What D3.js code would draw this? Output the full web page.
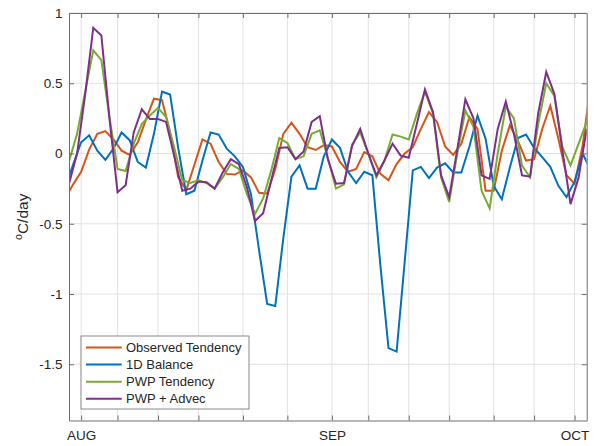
<!DOCTYPE html>
<html>
<head>
<meta charset="utf-8">
<script src="https://cdn.jsdelivr.net/npm/d3@7"></script>
<style>
  body { margin: 0; background: #fff; }
  text { font-family: "Liberation Sans", Arial, Helvetica, sans-serif; }
</style>
</head>
<body>
<div id="chart"></div>
<script>
// Days relative to Aug 1 (observed / 1D balance at whole days, PWP runs at half days)
const obsDays = d3.range(-2, 64);
const pwpDays = d3.range(-1.5, 63, 1);

const observed = [
  -0.32, -0.22, -0.13, 0.03, 0.14, 0.16, 0.10, 0.02, -0.01, 0.08, 0.24, 0.39, 0.38, 0.15, -0.17, -0.26, -0.08,
  0.10, 0.07, -0.06, -0.145, -0.15, -0.12, -0.17, -0.28, -0.285, -0.11, 0.14, 0.22, 0.14, 0.045, 0.025, 0.06,
  0.05, -0.06, -0.13, -0.11, 0.01, -0.02, -0.145, -0.19, -0.075, 0.0, 0.045, 0.175, 0.295, 0.225, 0.05, -0.01, 0.07,
  0.26, 0.175, -0.265, -0.265, 0.02, 0.20, 0.09, -0.05, -0.04, 0.175, 0.34, 0.105, -0.155, -0.215, 0.055, 0.50
];
const balance1D = [
  -0.25, -0.08, 0.08, 0.13, 0.02, -0.045, 0.035, 0.15, 0.095, -0.06, -0.10, 0.14, 0.44, 0.42, 0.04, -0.29, -0.265,
  -0.05, 0.15, 0.135, 0.035, -0.02, -0.095, -0.29, -0.69, -1.07, -1.085, -0.60, -0.165, -0.085, -0.25, -0.25, -0.02,
  0.10, 0.04, -0.13, -0.21, -0.13, -0.155, -0.80, -1.385, -1.41, -0.77, -0.12, -0.095, -0.175, -0.10, -0.07, -0.135, -0.135,
  0.05, 0.27, 0.105, -0.23, -0.325, -0.10, 0.11, 0.135, 0.04, -0.025, -0.095, -0.23, -0.31, -0.20, 0.0, -0.12
];
const pwpTendency = [
  -0.055, 0.14, 0.44, 0.735, 0.665, 0.26, -0.11, -0.125, 0.07, 0.21, 0.27, 0.325, 0.26, 0.045, -0.19, -0.21, -0.19,
  -0.21, -0.25, -0.17, -0.075, -0.11, -0.29, -0.43, -0.32, -0.12, 0.11, 0.075, -0.04, -0.02, 0.14, 0.165, -0.03,
  -0.25, -0.22, 0.065, 0.15, 0.0, -0.17, -0.05, 0.135, 0.12, 0.10, 0.28, 0.44, 0.285, -0.17, -0.345, 0.0,
  0.305, 0.19, -0.265, -0.39, 0.0, 0.335, 0.25, -0.085, -0.17, 0.21, 0.50, 0.41, 0.045, -0.085, 0.07, 0.225
];
const pwpAdvec = [
  -0.215, 0.0, 0.42, 0.895, 0.84, 0.25, -0.275, -0.225, 0.15, 0.315, 0.245, 0.245, 0.225, -0.015, -0.265, -0.25, -0.2,
  -0.205, -0.25, -0.135, -0.04, -0.075, -0.24, -0.48, -0.425, -0.19, 0.04, 0.045, -0.04, 0.015, 0.225, 0.265, -0.04,
  -0.215, -0.21, 0.055, 0.175, 0.0, -0.155, -0.05, 0.07, -0.015, -0.03, 0.21, 0.455, 0.295, -0.155, -0.31, 0.03,
  0.385, 0.25, -0.155, -0.18, 0.175, 0.37, 0.14, -0.155, -0.165, 0.285, 0.58, 0.425, 0.02, -0.36, -0.17, 0.175
];

const seriesNames = ["Observed Tendency", "1D Balance", "PWP Tendency", "PWP + Advec"];
const seriesColors = ["#D95319", "#0072BD", "#77AC30", "#7E2F8E"];

const xTicks = [0, 4.5, 9.5, 14.5, 20, 25.5, 31, 35.5, 40.5, 45.5, 51, 56, 61];
const xTickLabels = { 0: "AUG", 31: "SEP", 61: "OCT" };
const yTicks = [-1.5, -1, -0.5, 0, 0.5, 1];

const width = 602, height = 446;
const margin = { top: 13, right: 15.3, bottom: 25.5, left: 69 };

const svg = d3.select("#chart")
  .append("svg")
  .attr("width", width)
  .attr("height", height);

const x = d3.scaleLinear()
  .domain([-1.5, 62.5])
  .range([margin.left, width - margin.right]);

const y = d3.scaleLinear()
  .domain([-1.9, 1])
  .range([height - margin.bottom, margin.top]);

// Gridlines
const grid = svg.append("g")
  .attr("stroke", "#e2e2e2")
  .attr("stroke-width", 1);

grid.selectAll(".vx")
  .data(xTicks)
  .join("line")
  .attr("x1", d => x(d))
  .attr("x2", d => x(d))
  .attr("y1", y.range()[1])
  .attr("y2", y.range()[0]);

grid.selectAll(".hy")
  .data(yTicks)
  .join("line")
  .attr("x1", x.range()[0])
  .attr("x2", x.range()[1])
  .attr("y1", d => y(d))
  .attr("y2", d => y(d));

// Lines
svg.append("clipPath")
  .attr("id", "plot-clip")
  .append("rect")
  .attr("x", x.range()[0])
  .attr("y", y.range()[1])
  .attr("width", x.range()[1] - x.range()[0])
  .attr("height", y.range()[0] - y.range()[1]);

const series = [
  { days: obsDays, values: observed },
  { days: obsDays, values: balance1D },
  { days: pwpDays, values: pwpTendency },
  { days: pwpDays, values: pwpAdvec }
];

const line = d3.line()
  .x(d => x(d[0]))
  .y(d => y(d[1]));

svg.append("g")
  .attr("clip-path", "url(#plot-clip)")
  .selectAll("path")
  .data(series)
  .join("path")
  .attr("fill", "none")
  .attr("stroke", (d, i) => seriesColors[i])
  .attr("stroke-width", 2)
  .attr("stroke-linejoin", "miter")
  .attr("d", d => line(d.days.map((t, i) => [t, d.values[i]])));

// Axes (box with inward ticks)
function styleAxis(g) {
  g.select(".domain").attr("stroke", "#6e6e6e");
  g.selectAll(".tick line").attr("stroke", "#6e6e6e");
  g.selectAll(".tick text")
    .attr("fill", "#262626")
    .attr("font-size", "13.5px")
    .attr("font-family", "'Liberation Sans', Arial, Helvetica, sans-serif");
}

svg.append("g")
  .attr("transform", `translate(0,${y.range()[0]})`)
  .call(d3.axisBottom(x).tickValues(xTicks).tickSize(-5).tickSizeOuter(0).tickPadding(9.5)
    .tickFormat(d => xTickLabels[d] || ""))
  .call(styleAxis);

svg.append("g")
  .attr("transform", `translate(0,${y.range()[1]})`)
  .call(d3.axisTop(x).tickValues(xTicks).tickSize(-5).tickSizeOuter(0).tickFormat(""))
  .call(styleAxis);

svg.append("g")
  .attr("transform", `translate(${x.range()[0]},0)`)
  .call(d3.axisLeft(y).tickValues(yTicks).tickSize(-5).tickSizeOuter(0).tickPadding(6.5)
    .tickFormat(d => String(d).replace("-", "-")))
  .call(styleAxis);

svg.append("g")
  .attr("transform", `translate(${x.range()[1]},0)`)
  .call(d3.axisRight(y).tickValues(yTicks).tickSize(-5).tickSizeOuter(0).tickFormat(""))
  .call(styleAxis);

// Y label
const ylab = svg.append("text")
  .attr("transform", `translate(28,${(y.range()[0] + y.range()[1]) / 2}) rotate(-90)`)
  .attr("text-anchor", "middle")
  .attr("fill", "#262626")
  .attr("font-size", "15.5px");
ylab.append("tspan").attr("font-size", "10.5px").attr("dy", "-6").text("o");
ylab.append("tspan").attr("dy", "6").text("C/day");

// Legend
const legend = svg.append("g").attr("transform", "translate(81,336)");

legend.append("rect")
  .attr("width", 168)
  .attr("height", 73)
  .attr("fill", "#fff")
  .attr("stroke", "#8a8a8a")
  .attr("stroke-width", 1);

const rows = legend.selectAll(".row")
  .data(seriesNames)
  .join("g")
  .attr("transform", (d, i) => `translate(0,${11.5 + i * 17.1})`);

rows.append("line")
  .attr("x1", 5)
  .attr("x2", 40.7)
  .attr("stroke", (d, i) => seriesColors[i])
  .attr("stroke-width", 2);

rows.append("text")
  .attr("x", 45)
  .attr("dy", "0.35em")
  .attr("font-size", "13px")
  .attr("fill", "#262626")
  .text(d => d);
</script>
</body>
</html>
